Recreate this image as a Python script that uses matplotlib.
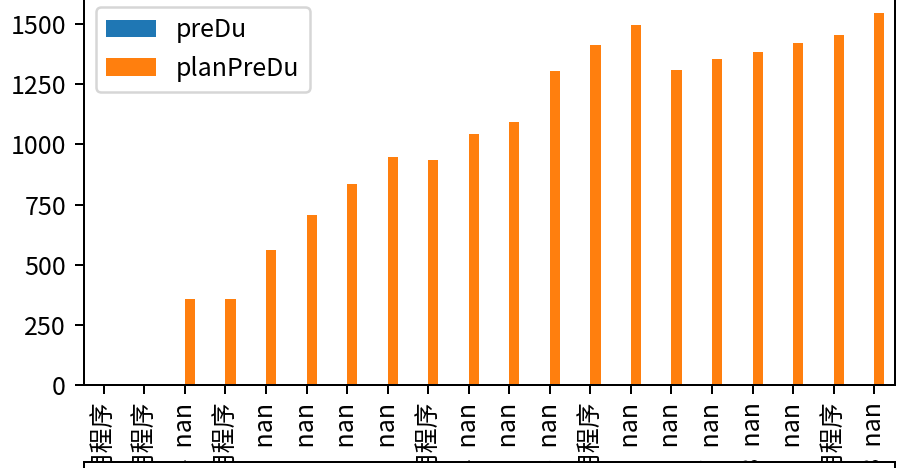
import numpy as np
import matplotlib
matplotlib.use('Agg')
import matplotlib.pyplot as plt
from matplotlib.patches import Rectangle

plt.rcParams['font.family'] = ['Noto Sans CJK SC', 'DejaVu Sans']
plt.rcParams['axes.unicode_minus'] = False

# data
xlabels = ['A01 应用程序', 'A02 应用程序', 'B04  nan', 'A03 应用程序', 'B13  nan',
           'B19  nan', 'B20  nan', 'B21  nan', 'A04 应用程序', 'B24  nan',
           'B25  nan', 'B26  nan', 'A05 应用程序', 'B30  nan', 'B35  nan',
           'B37  nan', 'B38  nan', 'B39  nan', 'A06 应用程序', 'B48  nan']
preDu = [np.nan] * 20
planPreDu = [0, 0, 357, 357, 560, 705, 837, 949, 937, 1044,
             1094, 1305, 1413, 1496, 1310, 1355, 1384, 1421, 1455, 1546]

fig = plt.figure(figsize=(897 / 180, 468 / 180), dpi=180)
ax = fig.add_axes([83.5 / 897, 83 / 468, 811 / 897, 390.4 / 468])

x = np.arange(len(xlabels))
w = 0.25
ax.bar(x - w / 2, preDu, w, color='#1f77b4', label='preDu')
ax.bar(x + w / 2, planPreDu, w, color='#ff7f0e', label='planPreDu')

ax.set_xlim(-0.5, len(xlabels) - 0.5)
ax.set_ylim(0, 1623)
ax.set_yticks([0, 250, 500, 750, 1000, 1250, 1500])
ax.set_xticks(x)
ax.set_xticklabels(xlabels, rotation=90)
ax.legend(loc='upper left')

# table box at the bottom (covers the label ends)
fig.patches.append(Rectangle((83.5 / 897, -0.1), 811 / 897, 0.1 + 5.5 / 468,
                             transform=fig.transFigure, facecolor='white',
                             edgecolor='black', linewidth=0.8, zorder=5))

plt.savefig('out.png', dpi=180)
